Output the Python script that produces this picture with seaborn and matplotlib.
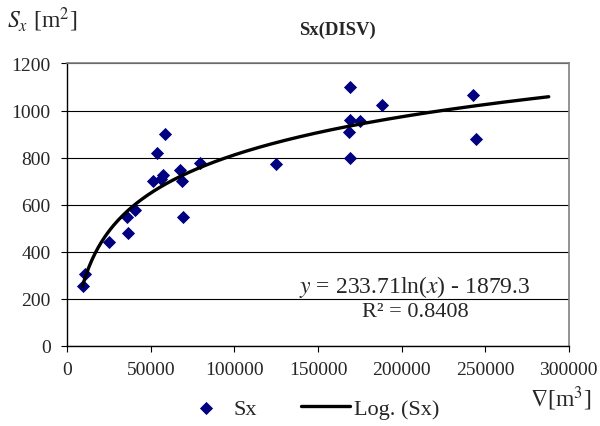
import numpy as np
import pandas as pd
import matplotlib
matplotlib.use('Agg')
import matplotlib.pyplot as plt
import seaborn as sns

# Данные
volume = [9200, 10800, 25000, 35600, 36300, 40700, 51300, 53900, 56100, 57500,
          58500, 67300, 68900, 69300, 79300, 125100, 168500, 168900, 168900,
          169300, 174900, 188000, 242500, 244300]
sx = [253, 306, 440, 546, 479, 578, 699, 819, 708, 725,
      899, 745, 700, 546, 778, 773, 907, 800, 1102,
      960, 956, 1022, 1066, 878]

# Логарифмический тренд (коэффициенты из подписи на графике)
coef_a = 233.71
coef_b = -1879.3
trend_x = np.linspace(9200, 288000, 300)
trend_y = coef_a * np.log(trend_x) + coef_b

x_ticks = [0, 50000, 100000, 150000, 200000, 250000, 300000]
y_ticks = [0, 200, 400, 600, 800, 1000, 1200]

sns.set_style('white')
plt.rcParams['font.family'] = ['Liberation Serif', 'DejaVu Serif']
plt.rcParams['mathtext.fontset'] = 'stix'

df = pd.DataFrame({'V': volume, 'Sx': sx})
df_trend = pd.DataFrame({'V': trend_x, 'Sx': trend_y})

fig = plt.figure(figsize=(6, 4.27), dpi=100)
ax = fig.add_axes([0.112, 0.188, 0.836, 0.661])

ax.yaxis.grid(True, color='black', linewidth=0.8)
ax.set_axisbelow(True)

sns.scatterplot(data=df, x='V', y='Sx', ax=ax, marker='D', s=45,
                color='#000080', edgecolor='#000080', linewidth=0, zorder=3,
                label='Sx', legend=False)
sns.lineplot(data=df_trend, x='V', y='Sx', ax=ax, color='black',
             linewidth=2.4, zorder=4, label='Log. (Sx)', legend=False)

ax.set_xlim(0, 300000)
ax.set_ylim(0, 1200)
ax.set_xticks(x_ticks)
ax.set_yticks(y_ticks)
ax.set_xlabel('')
ax.set_ylabel('')
ax.tick_params(axis='both', labelsize=14, direction='out', length=4,
               width=0.8, color='black', left=True, bottom=True)
ax.tick_params(axis='y', pad=8)
ax.tick_params(axis='x', pad=7)

for side in ['top', 'right']:
    ax.spines[side].set_color('#808080')
    ax.spines[side].set_linewidth(1.2)
for side in ['left', 'bottom']:
    ax.spines[side].set_color('black')
    ax.spines[side].set_linewidth(1.0)

ax.text(208000, 254, '$y$ = 233.71ln($x$) - 1879.3', ha='center', va='center',
        fontsize=17)
ax.text(208000, 144, 'R² = 0.8408', ha='center', va='center', fontsize=16)

fig.text(0.562, 0.93, 'Sx(DISV)', ha='center', va='center', fontsize=13.5,
         fontweight='bold')
fig.text(0.012, 0.955, '$S_x$ [m$^2$]', ha='left', va='center', fontsize=17)
fig.text(0.985, 0.067, '$\\nabla$[m$^3$]', ha='right', va='center', fontsize=17)

handles, labels = ax.get_legend_handles_labels()
fig.legend(handles, labels, loc='center', bbox_to_anchor=(0.517, 0.04),
           ncol=2, frameon=False, fontsize=16, handlelength=2.2,
           columnspacing=2.0, handletextpad=0.15)

fig.savefig('out.png', dpi=100)
